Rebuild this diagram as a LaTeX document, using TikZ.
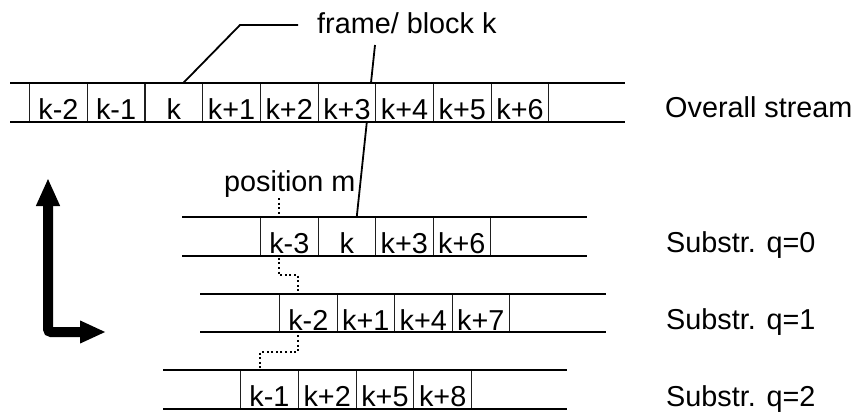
\documentclass[tikz,border=0pt]{standalone}
\usepackage{fontspec}
\setmainfont{Liberation Sans}
\usetikzlibrary{arrows.meta,backgrounds}
\begin{document}
\begin{tikzpicture}[x=1pt,y=-1pt, font=\fontsize{28.8}{34}\selectfont,
  cell/.style={draw=black!88, line width=1.1pt, fill=white, minimum width=#1,
    minimum height=39pt, inner sep=0pt, text height=36.5pt, text depth=2.5pt, anchor=west},
  cell/.default=57.6pt,
  rail/.style={line width=1.7pt},
  lead/.style={line width=1.8pt},
  dotline/.style={line width=1.8pt, dash pattern=on 2pt off 2.6pt},
  lbl/.style={inner sep=0pt, anchor=base west},
  bigarrow/.style={line width=10pt, rounded corners=3pt,
    {Triangle[length=28pt,width=22pt]}-{Triangle[length=26pt,width=21pt]}}]
\useasboundingbox (0,0) rectangle (859,412);

% overall stream
\foreach \t [count=\i from 0] in {k-2,k-1,k,k+1,k+2,k+3,k+4,k+5,k+6}
  \node[cell=57.7pt] (o\i) at (29+57.7*\i,102.5) {\t};
\draw[rail] (10,83) -- (625,83);
\draw[rail] (10,122) -- (625,122);

% substream q=0
\foreach \t [count=\i from 0] in {k-3,k,k+3,k+6}
  \node[cell=57.5pt] (a\i) at (260+57.5*\i,236.5) {\t};
\draw[rail] (182,217) -- (587,217);
\draw[rail] (182,256) -- (587,256);

% substream q=1
\foreach \t [count=\i from 0] in {k-2,k+1,k+4,k+7}
  \node[cell=57.5pt] (b\i) at (279+57.5*\i,313) {\t};
\draw[rail] (200,294) -- (606,294);
\draw[rail] (200,332) -- (606,332);

% substream q=2
\foreach \t [count=\i from 0] in {k-1,k+2,k+5,k+8}
  \node[cell=57.75pt] (c\i) at (240+57.75*\i,389.5) {\t};
\draw[rail] (163,370) -- (567,370);
\draw[rail] (163,409) -- (567,409);

% labels
\node[lbl] (frame) at (317,34) {frame/ block k};
\node[lbl] (overall) at (665,117) {Overall stream};
\node[lbl] (pos) at (224,191) {position m};
\node[lbl] (s0) at (666,252) {Substr. q=0};
\node[lbl] (s1) at (666,329) {Substr. q=1};
\node[lbl] (s2) at (666,406) {Substr. q=2};

% leader lines
\coordinate (fl1) at (298,25);
\coordinate (fk) at (240,25);
\draw[lead] (fl1) -- (fk) -- ([xshift=10pt]o2.north);

\begin{scope}[on background layer]
  \coordinate (fl2) at (375,45);
  \draw[lead] (fl2) -- ([xshift=10pt]a1.north);
  \coordinate (pm) at (279,198);
  \coordinate (pe) at (260,370);
  \draw[dotline] (pm) -- (279,275) -- (298,275) -- (298,352) -- (260,352) -- (pe);
\end{scope}

% big L arrow
\coordinate (au) at (48,178);
\coordinate (ac) at (48,332);
\coordinate (ar) at (106,332);
\draw[bigarrow] (au) -- (ac) -- (ar);
\end{tikzpicture}
\end{document}
